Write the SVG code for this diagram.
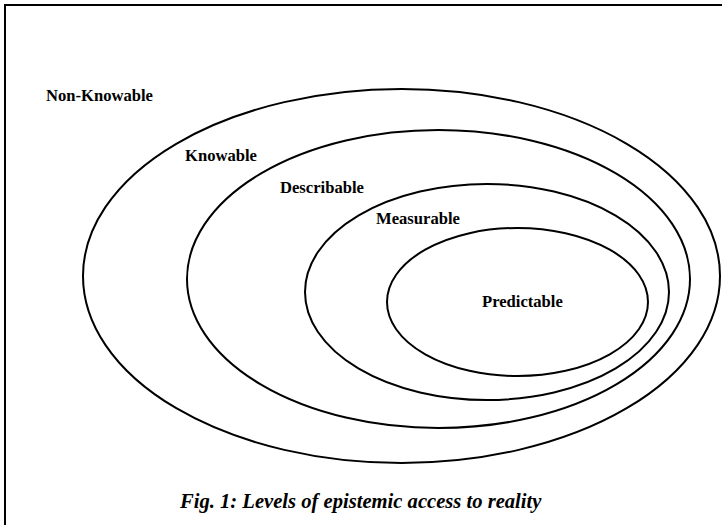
<svg xmlns="http://www.w3.org/2000/svg" width="722" height="525" viewBox="0 0 722 525">
<style>
.e{fill:none;stroke:#000;stroke-width:2}
.t{font-family:"Liberation Serif","Times New Roman",serif;font-weight:bold;font-size:16.6px;fill:#000}
.cap{font-family:"Liberation Serif","Times New Roman",serif;font-weight:bold;font-style:italic;font-size:20.6px;fill:#000}
</style>
<rect x="0" y="0" width="722" height="525" fill="#fff"/>
<rect x="5" y="5" width="730" height="540" fill="none" stroke="#000" stroke-width="2"/>
<g id="non-knowable"><text class="t" x="46" y="101">Non-Knowable</text></g>
<g id="knowable"><ellipse class="e" cx="401.5" cy="276" rx="318.5" ry="187"/><text class="t" x="185" y="161">Knowable</text></g>
<g id="describable"><ellipse class="e" cx="438.5" cy="279" rx="251.5" ry="149"/><text class="t" x="280" y="193">Describable</text></g>
<g id="measurable"><ellipse class="e" cx="487" cy="292" rx="182" ry="108"/><text class="t" x="376" y="224">Measurable</text></g>
<g id="predictable"><ellipse class="e" cx="517.5" cy="302" rx="130.5" ry="74"/><text class="t" x="482" y="306.5">Predictable</text></g>
<g id="connectors"></g>
<g id="caption"><text class="cap" x="180" y="508">Fig. 1: Levels of epistemic access to reality</text></g>
</svg>
